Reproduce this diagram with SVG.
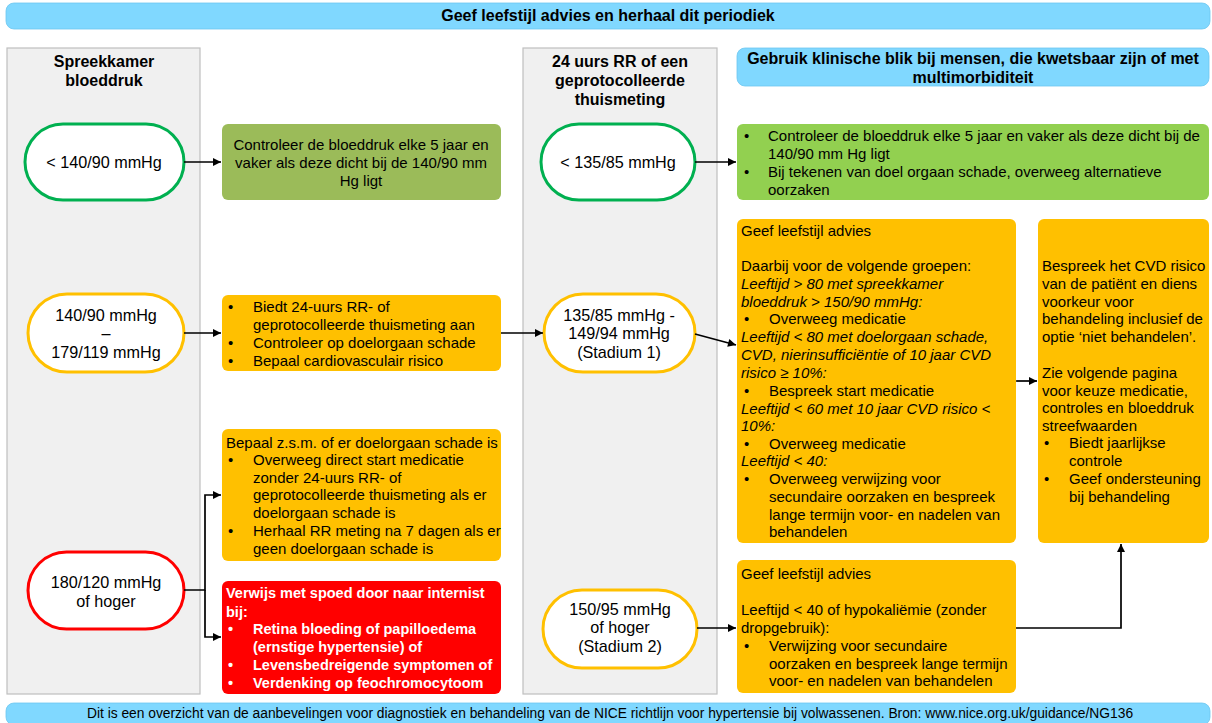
<svg xmlns="http://www.w3.org/2000/svg" width="1212" height="723" viewBox="0 0 1212 723">
<defs>
<style>
text{font-family:"Liberation Sans",Arial,sans-serif;fill:#000;}
.t{font-size:15px;}
.b{font-weight:bold;}
.h{font-size:16px;font-weight:bold;text-anchor:middle;}
.p{font-size:16.2px;text-anchor:middle;}
.c{text-anchor:middle;}
.i{font-style:italic;}
.w{fill:#fff;font-weight:bold;font-size:14.5px;}
.col{fill:#f0f0f0;stroke:#bfbfbf;stroke-width:1.2;}
.blue{fill:#80d8ff;stroke:#6cc7f0;stroke-width:0.8;}
.yel{fill:#ffc000;}
.g1{fill:#9bbb59;}
.g2{fill:#92d050;}
.red{fill:#ff0000;}
.pill{fill:#fff;stroke-width:3;}
.con{fill:none;stroke:#000;stroke-width:1.7;}
</style>
<marker id="ah" viewBox="0 0 10 10" refX="10" refY="5" markerWidth="9" markerHeight="8" orient="auto" markerUnits="userSpaceOnUse">
<path d="M0,0 L10,5 L0,10 z" fill="#000"/>
</marker>
</defs>
<rect width="1212" height="723" fill="#fff"/>

<g id="banner-top">
<rect class="blue" x="6" y="3" width="1204" height="26" rx="8"/>
<text class="h" x="608" y="21">Geef leefstijl advies en herhaal dit periodiek</text>
</g>

<g id="col-left">
<rect class="col" x="7" y="48" width="193" height="646"/>
<text class="h" x="104" y="67">Spreekkamer</text>
<text class="h" x="104" y="86">bloeddruk</text>
</g>

<g id="col-mid">
<rect class="col" x="523" y="48" width="194" height="646"/>
<text class="h" x="620" y="67">24 uurs RR of een</text>
<text class="h" x="620" y="86">geprotocolleerde</text>
<text class="h" x="620" y="105">thuismeting</text>
</g>

<g id="blue-note">
<rect class="blue" x="737" y="48" width="472" height="38" rx="8"/>
<text class="h" x="973" y="64">Gebruik klinische blik bij mensen, die kwetsbaar zijn of met</text>
<text class="h" x="973" y="83">multimorbiditeit</text>
</g>

<g id="pill-l1">
<rect class="pill" x="25" y="124" width="159" height="76" rx="38" stroke="#00b050"/>
<text class="p" x="104" y="168">&lt; 140/90 mmHg</text>
</g>

<g id="box-l1">
<rect class="g1" x="222" y="124" width="279" height="76" rx="6"/>
<text class="t c" x="361" y="150">Controleer de bloeddruk elke 5 jaar en</text>
<text class="t c" x="361" y="168">vaker als deze dicht bij de 140/90 mm</text>
<text class="t c" x="361" y="186">Hg ligt</text>
</g>

<g id="pill-l2">
<rect class="pill" x="28" y="294" width="156" height="78" rx="39" stroke="#ffc000"/>
<text class="p" x="106" y="321">140/90 mmHg</text>
<text class="p" x="106" y="339">–</text>
<text class="p" x="106" y="358">179/119 mmHg</text>
</g>

<g id="box-l2">
<rect class="yel" x="222" y="295" width="279" height="76" rx="6"/>
<text class="t" x="228" y="312">•</text><text class="t" x="253" y="312">Biedt 24-uurs RR- of</text>
<text class="t" x="253" y="330">geprotocolleerde thuismeting aan</text>
<text class="t" x="228" y="348">•</text><text class="t" x="253" y="348">Controleer op doelorgaan schade</text>
<text class="t" x="228" y="366">•</text><text class="t" x="253" y="366">Bepaal cardiovasculair risico</text>
</g>

<g id="box-l3">
<rect class="yel" x="222" y="429" width="279" height="132" rx="6"/>
<text class="t" x="226" y="448">Bepaal z.s.m. of er doelorgaan schade is</text>
<text class="t" x="228" y="465">•</text><text class="t" x="253" y="465">Overweeg direct start medicatie</text>
<text class="t" x="253" y="483">zonder 24-uurs RR- of</text>
<text class="t" x="253" y="500">geprotocolleerde thuismeting als er</text>
<text class="t" x="253" y="518">doelorgaan schade is</text>
<text class="t" x="228" y="536">•</text><text class="t" x="253" y="536">Herhaal RR meting na 7 dagen als er</text>
<text class="t" x="253" y="554">geen doelorgaan schade is</text>
</g>

<g id="pill-l3">
<rect class="pill" x="28" y="552" width="156" height="77" rx="38.5" stroke="#ff0000"/>
<text class="p" x="106" y="588">180/120 mmHg</text>
<text class="p" x="106" y="607">of hoger</text>
</g>

<g id="box-l4">
<rect class="red" x="222" y="581" width="279" height="113" rx="6"/>
<text class="w" x="226" y="598">Verwijs met spoed door naar internist</text>
<text class="w" x="226" y="617">bij:</text>
<text class="w" x="228" y="634">•</text><text class="w" x="253" y="634">Retina bloeding of papilloedema</text>
<text class="w" x="253" y="652">(ernstige hypertensie) of</text>
<text class="w" x="228" y="670">•</text><text class="w" x="253" y="670">Levensbedreigende symptomen of</text>
<text class="w" x="228" y="688">•</text><text class="w" x="253" y="688">Verdenking op feochromocytoom</text>
</g>

<g id="pill-m1">
<rect class="pill" x="541" y="124" width="154" height="76" rx="38" stroke="#00b050"/>
<text class="p" x="618" y="168">&lt; 135/85 mmHg</text>
</g>

<g id="box-m1">
<rect class="g2" x="737" y="124" width="472" height="76" rx="6"/>
<text class="t" x="744" y="141">•</text><text class="t" x="768" y="141">Controleer de bloeddruk elke 5 jaar en vaker als deze dicht bij de</text>
<text class="t" x="768" y="159">140/90 mm Hg ligt</text>
<text class="t" x="744" y="177">•</text><text class="t" x="768" y="177">Bij tekenen van doel orgaan schade, overweeg alternatieve</text>
<text class="t" x="768" y="195">oorzaken</text>
</g>

<g id="pill-m2">
<rect class="pill" x="544" y="294" width="151" height="78" rx="39" stroke="#ffc000"/>
<text class="p" x="619" y="321">135/85 mmHg -</text>
<text class="p" x="619" y="339">149/94 mmHg</text>
<text class="p" x="619" y="358">(Stadium 1)</text>
</g>

<g id="box-m2">
<rect class="yel" x="737" y="219" width="279" height="324" rx="6"/>
<text class="t" x="741" y="236">Geef leefstijl advies</text>
<text class="t" x="741" y="271">Daarbij voor de volgende groepen:</text>
<text class="t i" x="741" y="289">Leeftijd &gt; 80 met spreekkamer</text>
<text class="t i" x="741" y="307">bloeddruk &gt; 150/90 mmHg:</text>
<text class="t" x="744" y="324">•</text><text class="t" x="769" y="324">Overweeg medicatie</text>
<text class="t i" x="741" y="342">Leeftijd &lt; 80 met doelorgaan schade,</text>
<text class="t i" x="741" y="360">CVD, nierinsufficiëntie of 10 jaar CVD</text>
<text class="t i" x="741" y="378">risico ≥ 10%:</text>
<text class="t" x="744" y="396">•</text><text class="t" x="769" y="396">Bespreek start medicatie</text>
<text class="t i" x="741" y="414">Leeftijd &lt; 60 met 10 jaar CVD risico &lt;</text>
<text class="t i" x="741" y="431">10%:</text>
<text class="t" x="744" y="449">•</text><text class="t" x="769" y="449">Overweeg medicatie</text>
<text class="t i" x="741" y="466">Leeftijd &lt; 40:</text>
<text class="t" x="744" y="484">•</text><text class="t" x="769" y="484">Overweeg verwijzing voor</text>
<text class="t" x="769" y="502">secundaire oorzaken en bespreek</text>
<text class="t" x="769" y="520">lange termijn voor- en nadelen van</text>
<text class="t" x="769" y="537">behandelen</text>
</g>

<g id="box-r">
<rect class="yel" x="1038" y="219" width="171" height="324" rx="6"/>
<text class="t" x="1042" y="271">Bespreek het CVD risico</text>
<text class="t" x="1042" y="289">van de patiënt en diens</text>
<text class="t" x="1042" y="307">voorkeur voor</text>
<text class="t" x="1042" y="324">behandeling inclusief de</text>
<text class="t" x="1042" y="342">optie ‘niet behandelen’.</text>
<text class="t" x="1042" y="378">Zie volgende pagina</text>
<text class="t" x="1042" y="396">voor keuze medicatie,</text>
<text class="t" x="1042" y="413">controles en bloeddruk</text>
<text class="t" x="1042" y="431">streefwaarden</text>
<text class="t" x="1044" y="448">•</text><text class="t" x="1069" y="448">Biedt jaarlijkse</text>
<text class="t" x="1069" y="466">controle</text>
<text class="t" x="1044" y="484">•</text><text class="t" x="1069" y="484">Geef ondersteuning</text>
<text class="t" x="1069" y="502">bij behandeling</text>
</g>

<g id="pill-m3">
<rect class="pill" x="543" y="590" width="154" height="78" rx="39" stroke="#ffc000"/>
<text class="p" x="620" y="615">150/95 mmHg</text>
<text class="p" x="620" y="633">of hoger</text>
<text class="p" x="620" y="652">(Stadium 2)</text>
</g>

<g id="box-m3">
<rect class="yel" x="737" y="560" width="279" height="133" rx="6"/>
<text class="t" x="741" y="579">Geef leefstijl advies</text>
<text class="t" x="741" y="615">Leeftijd &lt; 40 of hypokaliëmie (zonder</text>
<text class="t" x="741" y="633">dropgebruik):</text>
<text class="t" x="744" y="651">•</text><text class="t" x="769" y="651">Verwijzing voor secundaire</text>
<text class="t" x="769" y="669">oorzaken en bespreek lange termijn</text>
<text class="t" x="769" y="686">voor- en nadelen van behandelen</text>
</g>

<g id="banner-bottom">
<rect class="blue" x="6" y="703" width="1204" height="22" rx="8"/>
<text class="c" x="610" y="718" style="font-size:13.8px">Dit is een overzicht van de aanbevelingen voor diagnostiek en behandeling van de NICE richtlijn voor hypertensie bij volwassenen. Bron: www.nice.org.uk/guidance/NG136</text>
</g>

<g id="connectors">
<path class="con" d="M184,162 H221" marker-end="url(#ah)"/>
<path class="con" d="M184,333 H221" marker-end="url(#ah)"/>
<path class="con" d="M501,333 H543" marker-end="url(#ah)"/>
<path class="con" d="M184,590 H205 V495 H221" marker-end="url(#ah)"/>
<path class="con" d="M205,590 V637 H221" marker-end="url(#ah)"/>
<path class="con" d="M695,162 H736" marker-end="url(#ah)"/>
<path class="con" d="M695,334 L736,345" marker-end="url(#ah)"/>
<path class="con" d="M1016,381 H1037" marker-end="url(#ah)"/>
<path class="con" d="M697,628 H736" marker-end="url(#ah)"/>
<path class="con" d="M1016,628 H1121 V544" marker-end="url(#ah)"/>
</g>
</svg>
